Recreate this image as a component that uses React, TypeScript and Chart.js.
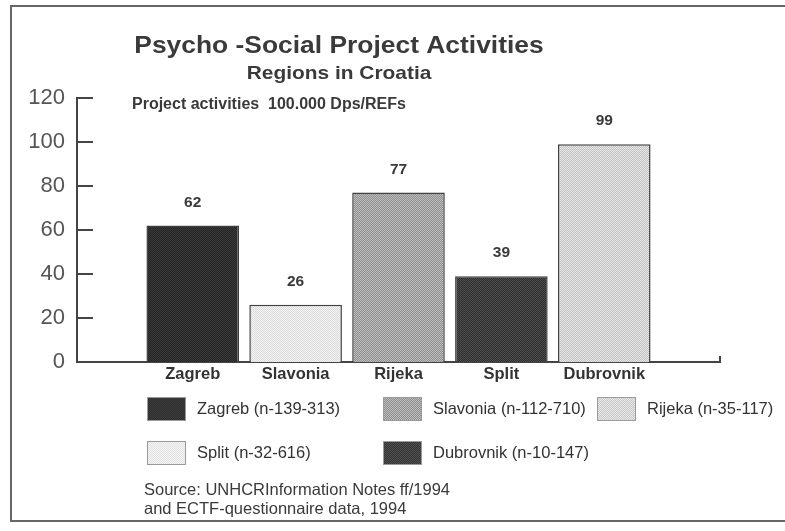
import React, { useEffect, useRef } from "react";
import { Chart, registerables } from "chart.js";

Chart.register(...registerables);

const categories = ["Zagreb", "Slavonia", "Rijeka", "Split", "Dubrovnik"];
const values = [62, 26, 77, 39, 99];
const yTickValues = [0, 20, 40, 60, 80, 100, 120];
const legendLabels = [
  "Zagreb (n-139-313)",
  "Slavonia (n-112-710)",
  "Rijeka (n-35-117)",
  "Split (n-32-616)",
  "Dubrovnik (n-10-147)",
];
const titleText = "Psycho -Social Project Activities";
const subtitleText = "Regions in Croatia";
const noteText = "Project activities  100.000 Dps/REFs";
const sourceLines = [
  "Source: UNHCRInformation Notes ff/1994",
  "and ECTF-questionnaire data, 1994",
];

const FONT = "'Liberation Sans', Arial, Helvetica, sans-serif";

function makePattern(c1: string, c2: string): CanvasPattern | string {
  const c = document.createElement("canvas");
  c.width = 2;
  c.height = 2;
  const x = c.getContext("2d");
  if (!x) return c1;
  x.fillStyle = c1;
  x.fillRect(0, 0, 2, 2);
  x.fillStyle = c2;
  x.fillRect(0, 0, 1, 1);
  x.fillRect(1, 1, 1, 1);
  const p = x.createPattern(c, "repeat");
  return p || c1;
}

function stretchedText(ctx: CanvasRenderingContext2D, text: string, cx: number, y: number, sx: number) {
  ctx.save();
  ctx.translate(cx, y);
  ctx.scale(sx, 1);
  ctx.textAlign = "center";
  ctx.fillText(text, 0, 0);
  ctx.restore();
}

export default function App() {
  const ref = useRef<HTMLCanvasElement | null>(null);

  useEffect(() => {
    if (!ref.current) return;
    const barFills = [
      makePattern("#262626", "#383838"),
      makePattern("#f2f2f2", "#dcdcdc"),
      makePattern("#8f8f8f", "#bdbdbd"),
      makePattern("#2f2f2f", "#4d4d4d"),
      makePattern("#c4c4c4", "#e4e4e4"),
    ];
    const legendFills = [
      makePattern("#2e2e2e", "#3c3c3c"),
      makePattern("#8f8f8f", "#bdbdbd"),
      makePattern("#c8c8c8", "#e8e8e8"),
      makePattern("#f4f4f4", "#e2e2e2"),
      makePattern("#353535", "#4f4f4f"),
    ];

    const decor = {
      id: "decor",
      beforeDraw(chart: any) {
        const ctx = chart.ctx;
        ctx.save();
        ctx.fillStyle = "#ffffff";
        ctx.fillRect(0, 0, chart.width, chart.height);
        ctx.strokeStyle = "#666";
        ctx.lineWidth = 2;
        ctx.beginPath();
        ctx.moveTo(chart.width + 5, 6);
        ctx.lineTo(11, 6);
        ctx.lineTo(11, 521);
        ctx.lineTo(chart.width + 5, 521);
        ctx.stroke();
        ctx.restore();
      },
      afterDraw(chart: any) {
        const ctx = chart.ctx;
        const area = chart.chartArea;
        const ys = chart.scales.y;
        ctx.save();
        ctx.strokeStyle = "#444";
        ctx.lineWidth = 2;
        yTickValues.forEach((v) => {
          if (v === 0) return;
          const py = ys.getPixelForValue(v);
          ctx.beginPath();
          ctx.moveTo(area.left, py);
          ctx.lineTo(area.left + 16, py);
          ctx.stroke();
        });
        ctx.beginPath();
        ctx.moveTo(area.right, area.bottom);
        ctx.lineTo(area.right, area.bottom - 6);
        ctx.stroke();

        // titles
        ctx.fillStyle = "#3a3a3a";
        ctx.textBaseline = "alphabetic";
        ctx.font = `bold 24px ${FONT}`;
        stretchedText(ctx, titleText, 339, 53, 1.1);
        ctx.font = `bold 19px ${FONT}`;
        stretchedText(ctx, subtitleText, 339, 79, 1.1);
        ctx.textAlign = "left";
        ctx.textBaseline = "middle";
        ctx.font = `bold 16px ${FONT}`;
        ctx.fillText(noteText, 132, 105);

        // value labels
        const meta = chart.getDatasetMeta(0);
        ctx.textAlign = "center";
        ctx.textBaseline = "middle";
        ctx.font = `bold 15.5px ${FONT}`;
        meta.data.forEach((bar: any, i: number) => {
          ctx.fillText(String(values[i]), bar.x, bar.y - 23);
        });

        // legend
        const cols = [147, 383, 597];
        const rows = [409, 453];
        ctx.font = `16.5px ${FONT}`;
        ctx.textAlign = "left";
        legendLabels.forEach((lab, i) => {
          const r = i < 3 ? 0 : 1;
          const c = i < 3 ? i : i - 3;
          const x = cols[c];
          const y = rows[r];
          ctx.fillStyle = legendFills[i];
          ctx.fillRect(x, y - 12, 39, 24);
          ctx.strokeStyle = "#9a9a9a";
          ctx.lineWidth = 1;
          ctx.strokeRect(x + 0.5, y - 11.5, 38, 23);
          ctx.fillStyle = "#333";
          ctx.fillText(lab, x + 50, y);
        });

        // source
        ctx.font = `16.5px ${FONT}`;
        ctx.fillStyle = "#3a3a3a";
        sourceLines.forEach((s, i) => {
          ctx.fillText(s, 144, 490 + i * 19);
        });
        ctx.restore();
      },
    };

    const chart = new Chart(ref.current, {
      type: "bar",
      data: {
        datasets: [
          {
            data: values.map((v, i) => ({ x: i, y: v })),
            backgroundColor: barFills as any,
            borderColor: "#404040",
            borderWidth: 1.5,
            borderSkipped: "bottom",
            barPercentage: 0.9,
            categoryPercentage: 1,
          },
        ],
      },
      options: {
        animation: false,
        responsive: false,
        layout: { padding: { left: 0, right: 65, top: 98, bottom: 139 } },
        plugins: {
          legend: { display: false },
          tooltip: { enabled: false },
          title: { display: false },
        },
        scales: {
          x: {
            type: "linear",
            min: -1.125,
            max: 5.125,
            offset: false,
            afterBuildTicks: (s: any) => {
              s.ticks = categories.map((_, i) => ({ value: i }));
            },
            afterFit: (s: any) => {
              s.height = 30;
            },
            grid: { display: false, drawTicks: false },
            border: { display: true, color: "#444", width: 2 },
            ticks: {
              autoSkip: false,
              maxRotation: 0,
              padding: 3,
              color: "#333",
              font: { family: FONT, size: 16.5, weight: "bold" },
              callback: (v: any) => categories[v] ?? "",
            },
          },
          y: {
            min: 0,
            max: 120,
            afterBuildTicks: (s: any) => {
              s.ticks = yTickValues.map((v) => ({ value: v }));
            },
            afterFit: (s: any) => {
              s.width = 77;
            },
            grid: { display: false, drawTicks: false },
            border: { display: true, color: "#444", width: 2 },
            ticks: {
              padding: 12,
              color: "#555",
              font: { family: FONT, size: 22 },
            },
          },
        },
      },
      plugins: [decor],
    } as any);
    return () => chart.destroy();
  }, []);

  return (
    <div
      style={{
        position: "fixed",
        left: 0,
        top: 0,
        width: 785,
        height: 531,
        background: "#fff",
      }}
    >
      <canvas ref={ref} width={785} height={531} />
    </div>
  );
}
